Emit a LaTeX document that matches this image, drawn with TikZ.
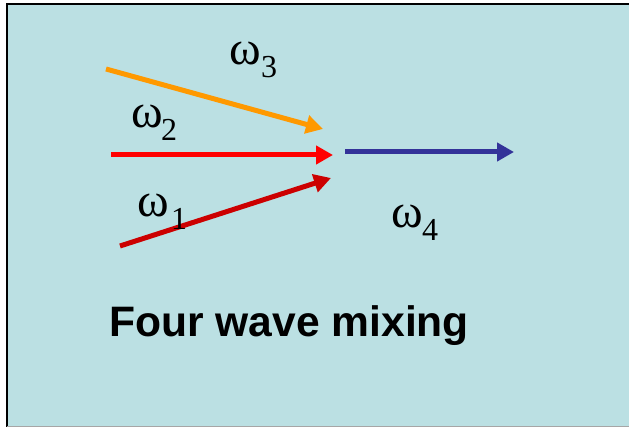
\documentclass[tikz,border=0pt]{standalone}
\usepackage{fontspec}
\setmainfont{Liberation Serif}
\newfontfamily\titlefont{Liberation Sans}
\usetikzlibrary{arrows.meta}
\definecolor{bgcyan}{RGB}{187,224,227}
\definecolor{worange}{RGB}{255,153,0}
\definecolor{wred}{RGB}{255,0,0}
\definecolor{wdarkred}{RGB}{204,0,0}
\definecolor{wblue}{RGB}{51,51,153}
\tikzset{
  wave/.style={line width=5pt, -{Triangle[length=17pt,width=18pt]}},
  omlabel/.style={anchor=base west, inner sep=0pt, font=\fontsize{48}{48}\selectfont},
}
\newcommand{\omsub}[2]{\makebox[#2][l]{ω}\raisebox{-12.5pt}{\fontsize{32}{32}\selectfont #1}}
\begin{document}
\begin{tikzpicture}[x=1pt,y=-1pt]
\useasboundingbox (0,0) rectangle (629,427);
\fill[white] (0,0) rectangle (629,427);
\fill[bgcyan] (7,4) rectangle (629,427);
\draw[line width=2pt, black] (7,427) -- (7,4) -- (629,4);
\draw[line width=1pt, gray!70] (7,426.5) -- (629,426.5);
% arrow end points
\coordinate (s3) at (106,69);
\coordinate (e3) at (323,129);
\coordinate (s2) at (111,155);
\coordinate (e2) at (333,155);
\coordinate (s1) at (120,246);
\coordinate (e1) at (331,178);
\coordinate (s4) at (345,152);
\coordinate (e4) at (514,152);
\draw[wave, worange] (s3) -- (e3);
\draw[wave, wred] (s2) -- (e2);
\draw[wave, wdarkred] (s1) -- (e1);
\draw[wave, wblue] (s4) -- (e4);
% labels
\node[omlabel] (l3) at (229,65) {\omsub{3}{32pt}};
\node[omlabel] (l2) at (131,128) {\omsub{2}{30pt}};
\node[omlabel] (l1) at (137,217) {\omsub{1}{34pt}};
\node[omlabel] (l4) at (391,228) {\omsub{4}{31pt}};
\node[anchor=base west, inner sep=0pt, font=\titlefont\bfseries\fontsize{42.6}{42.6}\selectfont] (title) at (109,337) {Four wave mixing};
\end{tikzpicture}
\end{document}
